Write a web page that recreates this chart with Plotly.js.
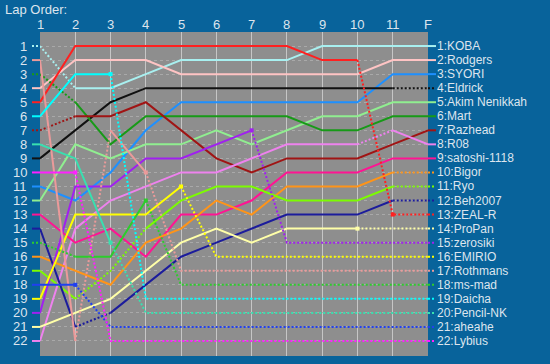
<!DOCTYPE html>
<html><head><meta charset="utf-8">
<script src="https://cdn.plot.ly/plotly-3.0.1.min.js"></script>
<style>html,body{margin:0;padding:0;background:#08639b;}#chart{width:550px;height:364px;}</style>
</head><body><div id="chart"></div>
<script>
// ---- data ----
const lapLabels = ['1','2','3','4','5','6','7','8','9','10','11','F'];
const rankLabels = ['1','2','3','4','5','6','7','8','9','10','11','12','13','14','15','16','17','18','19','20','21','22'];
const drivers = ['KOBA','Rodgers','SYORI','Eldrick','Akim Nenikkah','Mart','Razhead','R08','satoshi-1118','Bigor','Ryo','Beh2007','ZEAL-R','ProPan','zerosiki','EMIRIO','Rothmans','ms-mad','Daicha','Pencil-NK','aheahe','Lybius'];

// positions at laps 1..11 and F
const KOBA      = [1,4,4,3,2,2,2,2,1,1,1,1];
const Rodgers   = [4,2,2,2,3,3,3,3,3,3,2,2];
const SYORI     = [11,12,10,7,5,5,5,5,5,5,3,3];
const Eldrick   = [9,7,5,4,4,4,4,4,4,4,4,4];
const Akim      = [12,8,9,8,8,7,8,7,6,6,5,5];
const Mart      = [3,5,8,6,6,6,6,6,7,7,6,6];
const Razhead   = [7,6,6,5,7,9,10,9,9,9,8,7];
const R08       = [22,14,12,11,10,10,9,8,8,8,7,8];
const satoshi   = [13,15,14,16,13,13,12,10,10,10,9,9];
const Bigor     = [16,17,18,15,14,12,13,11,11,11,10,10];
const Ryo       = [17,19,17,14,12,11,11,12,12,12,11,11];
const Beh2007   = [14,21,20,18,16,15,14,13,13,13,12,12];
const ZEALR     = [5,1,1,1,1,1,1,1,2,2,13,13];
const ProPan    = [21,20,19,17,15,14,15,14,14,14,14,14];
const zerosiki  = [20,11,11,9,9,8,7,15,15,15,15,15];
const EMIRIO    = [19,13,13,13,11,16,16,16,16,16,16,16];
const Rothmans  = [2,22,7,10,17,17,17,17,17,17,17,17];
const msmad     = [15,16,16,12,18,18,18,18,18,18,18,18];
const Daicha    = [6,3,3,19,19,19,19,19,19,19,19,19];
const PencilNK  = [8,9,15,20,20,20,20,20,20,20,20,20];
const aheahe    = [18,18,21,21,21,21,21,21,21,21,21,21];
const Lybius    = [10,10,22,22,22,22,22,22,22,22,22,22];
const series = [KOBA,Rodgers,SYORI,Eldrick,Akim,Mart,Razhead,R08,satoshi,Bigor,Ryo,Beh2007,ZEALR,ProPan,zerosiki,EMIRIO,Rothmans,msmad,Daicha,PencilNK,aheahe,Lybius];

// segment kind between consecutive laps: s = normal, d = not timed
const segKinds = ['dssssssssss','sssssssssss','sssssssssss','ssssssssssd','sssssssssss','dssssssssss','dssssssssss','sssssssssds','sssssssssss','ssssssssssd','sddsssssssd','sdssssssssd','sssssssssdd','sssssssssdd','ssssssddddd','ssssddddddd','sdsdddddddd','dssdddddddd','ssddddddddd','ssddddddddd','sdddddddddd','sdddddddddd'];
// lap where a marker is shown (0 = none)
const markLap = [0,0,0,0,0,0,0,0,0,0,0,0,11,10,7,5,4,4,3,3,2,2];

// ---- styles ----
const colors = ['#a8f0f0','#ffc4c4','#1e90ff','#111111','#90ee90','#179a17','#a01414','#ee82ee','#ff1493','#ff9418','#7cfc00','#1c1c9c','#ff2020','#ffffa8','#a020f0','#ffff00','#eb9a9a','#2ccd2c','#00ffff','#38e0b0','#2040f0','#ff20ff'];
const txt = '#dde5ee';
const laps = lapLabels.map((_, i) => i + 1);
const ranks = rankLabels.map((_, i) => i + 1);

const traces = [];
const shapes = [];
const annotations = [];
drivers.forEach((name, d) => {
  const p = series[d], k = segKinds[d];
  let start = 0;
  for (let i = 1; i <= k.length; i++) {
    if (i === k.length || k[i] !== k[start]) {
      traces.push({type:'scatter', mode:'lines', x: laps.slice(start, i + 1), y: p.slice(start, i + 1),
        line:{color: colors[d], width: 2, dash: k[start] === 'd' ? '2px,2px' : 'solid'},
        hoverinfo:'skip', showlegend:false});
      start = i;
    }
  }
  if (markLap[d]) {
    traces.push({type:'scatter', mode:'markers', x:[markLap[d]], y:[p[markLap[d]-1]],
      marker:{symbol:'square', size:4, color: colors[d]}, hoverinfo:'skip', showlegend:false});
  }
  shapes.push({type:'line', xref:'paper', yref:'y', xsizemode:'pixel', xanchor:0, x0:-8, x1:0, y0:p[0], y1:p[0],
    line:{color: colors[d], width: 2, dash: k[0] === 'd' ? '2px,2px' : 'solid'}});
  shapes.push({type:'line', xref:'paper', yref:'y', xsizemode:'pixel', xanchor:1, x0:0, x1:8, y0:p[p.length-1], y1:p[p.length-1],
    line:{color: colors[d], width: 2, dash: k[k.length-1] === 'd' ? '2px,2px' : 'solid'}});
  annotations.push({xref:'paper', yref:'y', x:1, y:p[p.length-1], xanchor:'left', yanchor:'middle', xshift:7,
    text: p[p.length-1] + ':' + name, showarrow:false, font:{size:12, color: txt}});
});
rankLabels.forEach((r, i) => {
  annotations.push({xref:'paper', yref:'y', x:0, y:ranks[i], xanchor:'right', yanchor:'middle', xshift:-11,
    text:r, showarrow:false, font:{size:13, color: txt}});
});
lapLabels.forEach((l, i) => {
  annotations.push({xref:'x', yref:'paper', x:laps[i], y:1, xanchor:'center', yanchor:'middle', yshift:8,
    text:l, showarrow:false, font:{size:13, color: txt}});
});
annotations.push({xref:'paper', yref:'paper', x:0, y:1, xanchor:'left', yanchor:'middle', xshift:-37, yshift:23,
  text:'Lap Order:', showarrow:false, font:{size:13, color: txt}});

const layout = {
  width:550, height:364,
  margin:{l:40, r:122, t:32, b:8},
  paper_bgcolor:'#08639b', plot_bgcolor:'#8e8e8e',
  font:{family:'"Liberation Sans", Arial, sans-serif', color: txt},
  showlegend:false,
  xaxis:{range:[1,12], tickmode:'array', tickvals: laps, showticklabels:false,
    showgrid:true, gridcolor:'#c6c6c6', gridwidth:1, zeroline:false, showline:false, ticks:'', fixedrange:true},
  yaxis:{range:[23.07,0], tickmode:'array', tickvals: ranks,
    showticklabels:false, showgrid:true, gridcolor:'#a9a9a9', gridwidth:1, griddash:'dot', zeroline:false, showline:false, ticks:'', fixedrange:true},
  shapes: shapes,
  annotations: annotations
};
Plotly.newPlot('chart', traces, layout, {staticPlot:true, displayModeBar:false});
</script>
</body></html>
